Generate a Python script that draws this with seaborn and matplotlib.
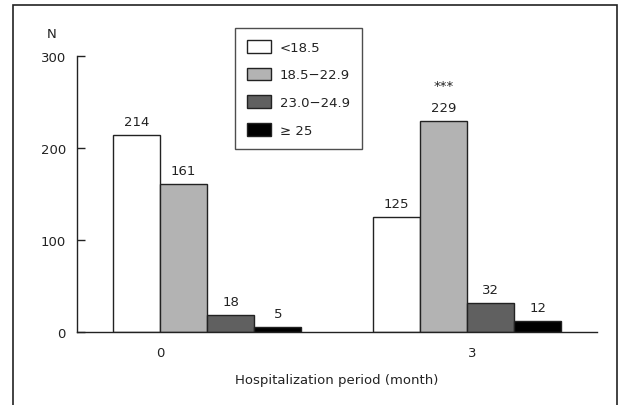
import matplotlib
matplotlib.use('Agg')
import matplotlib.pyplot as plt
from matplotlib.patches import Rectangle
import numpy as np
import pandas as pd
import seaborn as sns

# Data
periods = ['0', '3']
bmi_groups = ['<18.5', '18.5\u221222.9', '23.0\u221224.9', '\u2265 25']
counts_0 = [214, 161, 18, 5]
counts_3 = [125, 229, 32, 12]
colors = ['#ffffff', '#b3b3b3', '#606060', '#000000']

df = pd.DataFrame({
    'period': [periods[0]] * 4 + [periods[1]] * 4,
    'bmi': bmi_groups * 2,
    'n': counts_0 + counts_3,
})

sns.set_theme(style='white')
plt.rcParams['font.family'] = ['DejaVu Sans']
plt.rcParams['text.color'] = '#222222'

fig = plt.figure(figsize=(6.18, 4.06), dpi=100)
ax = fig.add_axes([77 / 618, 73 / 406, 520 / 618, 276 / 406])

sns.barplot(data=df, x='period', y='n', hue='bmi', order=periods, hue_order=bmi_groups,
            palette=colors, width=0.726, edgecolor='#222222', linewidth=1.0,
            gap=0, ax=ax, legend=True)

for c in ax.containers:
    ax.bar_label(c, padding=5, fontsize=9.5, color='#222222')

# significance mark above the 229 bar
gray_bar = ax.containers[1][1]
ax.annotate('***', (gray_bar.get_x() + gray_bar.get_width() / 2, gray_bar.get_height()),
            xytext=(0, 21), textcoords='offset points', ha='center', va='bottom',
            fontsize=9.5, color='#222222')

ax.set_xlim(-0.5, 1.5)
ax.set_ylim(0, 300)
ax.set_yticks([0, 100, 200, 300])
ax.set_xticks([-0.18, 1.02])
ax.set_xticklabels(periods)
ax.tick_params(axis='y', left=True, direction='in', length=6, width=1, color='#222222',
               labelsize=9.5, pad=8, labelcolor='#222222')
ax.tick_params(axis='x', length=0, labelsize=9.5, pad=10, labelcolor='#222222')
ax.set_xlabel('Hospitalization period (month)', fontsize=9.5, labelpad=10, color='#222222')
ax.set_ylabel('')
for s in ['top', 'right']:
    ax.spines[s].set_visible(False)
for s in ['left', 'bottom']:
    ax.spines[s].set_color('#222222')
    ax.spines[s].set_linewidth(1)

fig.text(52 / 618, 1 - 35 / 406, 'N', ha='center', va='center', fontsize=9.5)

leg = ax.legend(loc='upper left', bbox_to_anchor=(235 / 618, 1 - 29 / 406),
                bbox_transform=fig.transFigure, frameon=True, fancybox=False,
                edgecolor='#222222', fontsize=9.5, handlelength=1.8, handleheight=1.1,
                labelspacing=1.05, borderpad=0.9, handletextpad=0.7, borderaxespad=0,
                title=None)
leg.get_frame().set_linewidth(1)

# outer frame (open at the bottom)
fig.patches.append(Rectangle((13 / 618, -0.2), 604 / 618, 1.2 - 6 / 406, transform=fig.transFigure,
                             fill=False, edgecolor='#222222', linewidth=1.2, clip_on=False))

fig.savefig('out.png', dpi=100)
